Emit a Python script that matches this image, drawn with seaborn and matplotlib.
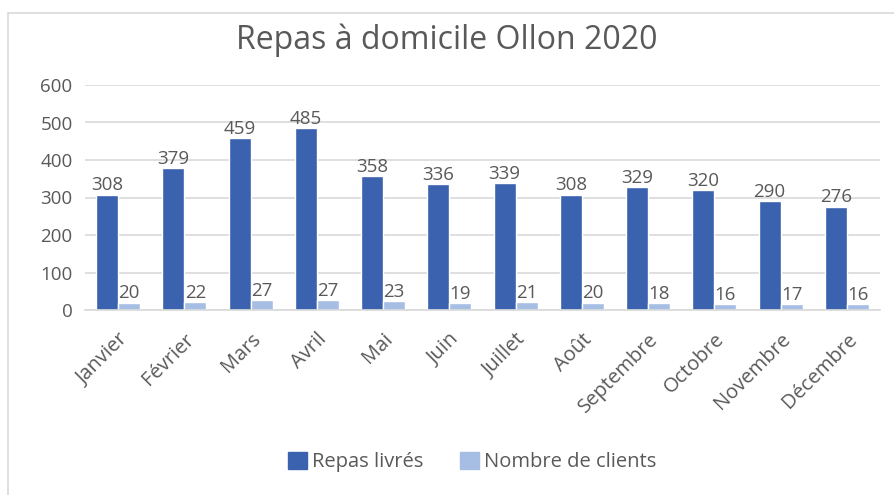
import numpy as np
import pandas as pd
import matplotlib
matplotlib.use('Agg')
import matplotlib.pyplot as plt
import seaborn as sns

## Data
mois    = ['Janvier','Février','Mars','Avril','Mai','Juin','Juillet','Août',
           'Septembre','Octobre','Novembre','Décembre']
repas   = [308,379,459,485,358,336,339,308,329,320,290,276]
clients = [20,22,27,27,23,19,21,20,18,16,17,16]
series  = ['Repas livrés','Nombre de clients']
colors  = ['#3A62AE','#A6BEE4']
txt     = '#595959'
grid    = '#D9D9D9'

df = pd.DataFrame({'mois': mois*2,
                   'valeur': repas+clients,
                   'serie': [series[0]]*len(mois)+[series[1]]*len(mois)})

## Figure
sns.set_style('white')
plt.rcParams['font.family'] = ['Open Sans','DejaVu Sans']
fig = plt.figure(figsize=(8.94,4.95), dpi=100)
ax = fig.add_axes([85/894, 1-310/495, 795/894, 225/495])

sns.barplot(data=df, x='mois', y='valeur', hue='serie', palette=colors,
            width=0.664, saturation=1, ax=ax, legend=False)

for cont in ax.containers:
    ax.bar_label(cont, fontsize=13.5, color=txt, padding=0)

ax.set_ylim(0,600)
ax.set_xlim(-0.5, len(mois)-0.5)
ax.set_yticks(range(0,601,100))
ax.yaxis.grid(True, color=grid, linewidth=1.2)
ax.set_axisbelow(True)
for sp in ['top','right','left']:
    ax.spines[sp].set_visible(False)
ax.spines['bottom'].set_color(grid)
ax.spines['bottom'].set_linewidth(1.2)
ax.tick_params(axis='both', length=0, colors=txt)
ax.tick_params(axis='y', pad=9, labelsize=13.5)
ax.tick_params(axis='x', pad=14, labelsize=14.5)
plt.setp(ax.get_xticklabels(), rotation=45, ha='right', rotation_mode='anchor')
ax.set_xlabel('')
ax.set_ylabel('')

## Title and legend
fig.text(0.5, 1-40/495, 'Repas à domicile Ollon 2020', ha='center', va='center',
         fontsize=23, color=txt)
handles = [plt.Rectangle((0,0),1,1,color=c) for c in colors]
fig.legend(handles, series, loc='center', bbox_to_anchor=(472/894, 1-462/495), ncol=2,
           frameon=False, fontsize=14.5, handlelength=0.95, handleheight=0.95,
           handletextpad=0.25, columnspacing=1.8, labelcolor=txt)

## Chart border
fig.add_artist(plt.Line2D([8/894, 1], [1-13/495, 1-13/495], color=grid, lw=1.2))
fig.add_artist(plt.Line2D([8/894, 8/894], [0, 1-13/495], color=grid, lw=1.2))

fig.savefig('out.png', dpi=100)
